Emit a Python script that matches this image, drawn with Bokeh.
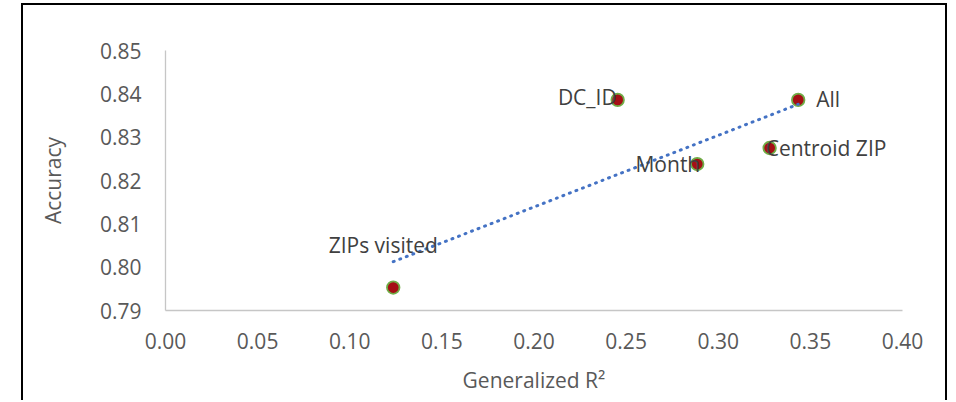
import numpy as np
from bokeh.plotting import figure
from bokeh.models import Range1d, FixedTicker, NumeralTickFormatter, ColumnDataSource
from bokeh.core.properties import value
from bokeh.embed import file_html
from bokeh.resources import INLINE

# ---- data ----
labels = ["DC_ID", "All", "Centroid ZIP", "Month", "ZIPs visited"]
generalized_r2 = [0.2454, 0.3434, 0.3279, 0.2886, 0.1236]
accuracy = [0.8386, 0.8386, 0.8275, 0.8238, 0.7953]
x_ticks = [0.00, 0.05, 0.10, 0.15, 0.20, 0.25, 0.30, 0.35, 0.40]
y_ticks = [0.79, 0.80, 0.81, 0.82, 0.83, 0.84, 0.85]

# ---- label placement (style) ----
label_align = ["right", "left", "left", "right", "center"]
label_dx = [-1, 18, -4, 3, -10]
label_dy = [-3, -1, 0, 0, -43]

FONT = "Open Sans"

p = figure(width=926, height=397,
           x_range=Range1d(x_ticks[0], x_ticks[-1]),
           y_range=Range1d(y_ticks[0], y_ticks[-1]),
           output_backend="svg", toolbar_location=None,
           min_border_left=142, min_border_right=47,
           min_border_top=45, min_border_bottom=92)
p.styles = {"border-top": "2px solid #000000",
            "border-left": "2px solid #000000",
            "border-right": "2px solid #000000"}
p.margin = (3, 0, 0, 21)
p.outline_line_color = None
p.background_fill_color = "white"
p.border_fill_color = "white"
p.xgrid.grid_line_color = None
p.ygrid.grid_line_color = None

for ax in (p.xaxis[0], p.yaxis[0]):
    ax.axis_line_color = "#C6C6C6"
    ax.axis_line_width = 1.3
    ax.major_tick_line_color = None
    ax.minor_tick_line_color = None
    ax.major_label_text_font = FONT
    ax.major_label_text_font_size = "21px"
    ax.major_label_text_color = "#595959"
    ax.axis_label_text_font = FONT
    ax.axis_label_text_font_size = "21px"
    ax.axis_label_text_color = "#595959"
    ax.axis_label_text_font_style = "normal"
    ax.formatter = NumeralTickFormatter(format="0.00")

p.xaxis.ticker = FixedTicker(ticks=x_ticks)
p.yaxis.ticker = FixedTicker(ticks=y_ticks)
p.xaxis.axis_label = "Generalized R²"
p.yaxis.axis_label = "Accuracy"
p.xaxis.major_label_standoff = 16
p.yaxis.major_label_standoff = 18
p.xaxis.axis_label_standoff = 14
p.yaxis.axis_label_standoff = 30

src = ColumnDataSource(dict(x=generalized_r2, y=accuracy, label=labels,
                            align=label_align, dx=label_dx, dy=label_dy))

p.scatter("x", "y", source=src, size=12.5, fill_color="#A50F15",
          line_color="#70AD47", line_width=1.8)

# linear trendline
slope, intercept = np.polyfit(generalized_r2, accuracy, 1)
tx = [min(generalized_r2), max(generalized_r2)]
ty = [slope * v + intercept for v in tx]
p.line(tx, ty, line_color="#4472C4", line_width=3, line_dash="1 6",
       line_cap="round")

p.text("x", "y", text="label", source=src, text_align="align",
       x_offset="dx", y_offset="dy", text_baseline="alphabetic",
       text_font=value(FONT), text_font_size="21px", text_color="#404040")

open("out.html", "w").write(file_html(p, INLINE))
